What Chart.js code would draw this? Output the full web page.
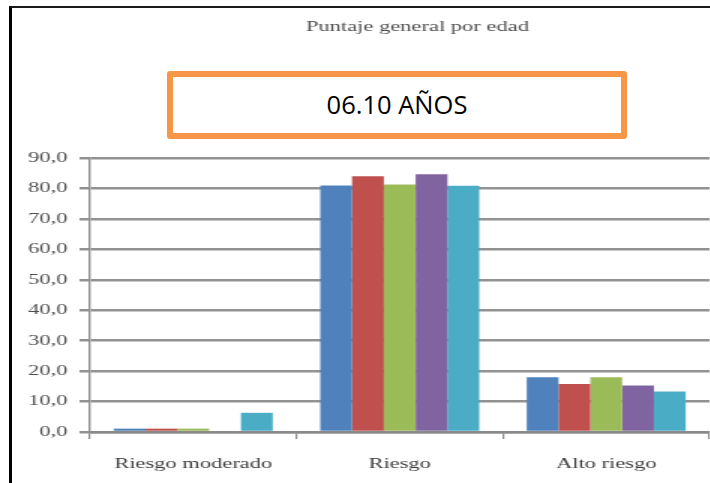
<!DOCTYPE html>
<html><head><meta charset="utf-8">
<script src="https://cdn.jsdelivr.net/npm/chart.js@4/dist/chart.umd.min.js"></script>
<style>
html,body{margin:0;padding:0;background:#fff;width:710px;height:483px;overflow:hidden;position:relative;}
#wrap{position:absolute;left:0;top:0;width:474px;height:483px;transform:scaleX(1.5);transform-origin:0 0;}
#frame{position:absolute;left:9px;top:6px;width:800px;height:600px;border-left:3px solid #000;border-top:2px solid #1a1a1a;box-sizing:border-box;pointer-events:none;}
#badge{position:absolute;left:167px;top:71px;width:460px;height:68px;box-sizing:border-box;border:6px solid #F79646;border-radius:3px;background:#fff;display:flex;align-items:center;justify-content:center;font-family:'Open Sans';font-size:25.5px;color:#000;padding-bottom:3px;}
</style></head>
<body>
<div id="wrap"><canvas id="c" width="474" height="483"></canvas></div>
<div id="frame"></div>
<div id="badge"></div>
<script>
const categories = ['Riesgo moderado', 'Riesgo', 'Alto riesgo'];
const seriesNames = ['6 años', '7 años', '8 años', '9 años', '10 años'];
const serie6 = [1.1, 81.0, 18.0];
const serie7 = [1.1, 84.0, 15.8];
const serie8 = [1.1, 81.3, 18.0];
const serie9 = [0.0, 84.7, 15.3];
const serie10 = [6.3, 80.9, 13.3];
const yTickValues = [0, 10, 20, 30, 40, 50, 60, 70, 80, 90];
const yTickLabels = ['0,0', '10,0', '20,0', '30,0', '40,0', '50,0', '60,0', '70,0', '80,0', '90,0'];
const chartTitle = 'Puntaje general por edad';
const badgeText = '06.10 AÑOS';

const seriesValues = [serie6, serie7, serie8, serie9, serie10];
const seriesColors = ['#4F81BD', '#C0504D', '#9BBB59', '#8064A2', '#4BACC6'];

document.getElementById('badge').textContent = badgeText;

Chart.defaults.font.family = '"Liberation Serif", "Times New Roman", serif';

const titlePlugin = {
  id: 'pageTitle',
  afterDraw(chart) {
    const c = chart.ctx;
    c.save();
    c.font = '15px "Liberation Serif"';
    c.fillStyle = '#4d4d4d';
    c.textAlign = 'center';
    c.textBaseline = 'alphabetic';
    c.fillText(chartTitle, 278.3, 31);
    c.restore();
  }
};

new Chart(document.getElementById('c'), {
  type: 'bar',
  data: {
    labels: categories,
    datasets: seriesValues.map((vals, i) => ({
      label: seriesNames[i],
      data: vals,
      backgroundColor: seriesColors[i],
      borderWidth: 0
    }))
  },
  options: {
    responsive: false,
    animation: false,
    devicePixelRatio: 1,
    layout: { padding: { top: 158, left: 0, right: 1, bottom: 0 } },
    datasets: { bar: { categoryPercentage: 0.77, barPercentage: 1.0 } },
    plugins: {
      legend: { display: false },
      title: { display: false },
      tooltip: { enabled: false }
    },
    scales: {
      x: {
        grid: { display: true, drawOnChartArea: false, drawTicks: true, tickLength: 7, color: '#8a8a8a', lineWidth: 1.2, offset: true },
        border: { display: true, color: '#8a8a8a', width: 2.5 },
        ticks: { font: { size: 15 }, color: '#3c3c3c', padding: 16, maxRotation: 0, autoSkip: false },
        afterFit: s => { s.height = 51; }
      },
      y: {
        min: 0, max: 90,
        afterBuildTicks: s => { s.ticks = yTickValues.map(v => ({ value: v })); },
        ticks: { callback: (v, i) => yTickLabels[i], font: { size: 15 }, color: '#4d4d4d', padding: 8 },
        grid: { color: '#929292', lineWidth: 2.5, tickLength: 7 },
        border: { display: true, color: '#8f8f8f', width: 1.4 },
        afterFit: s => { s.width = 60; }
      }
    }
  },
  plugins: [titlePlugin]
});
</script>
</body></html>
